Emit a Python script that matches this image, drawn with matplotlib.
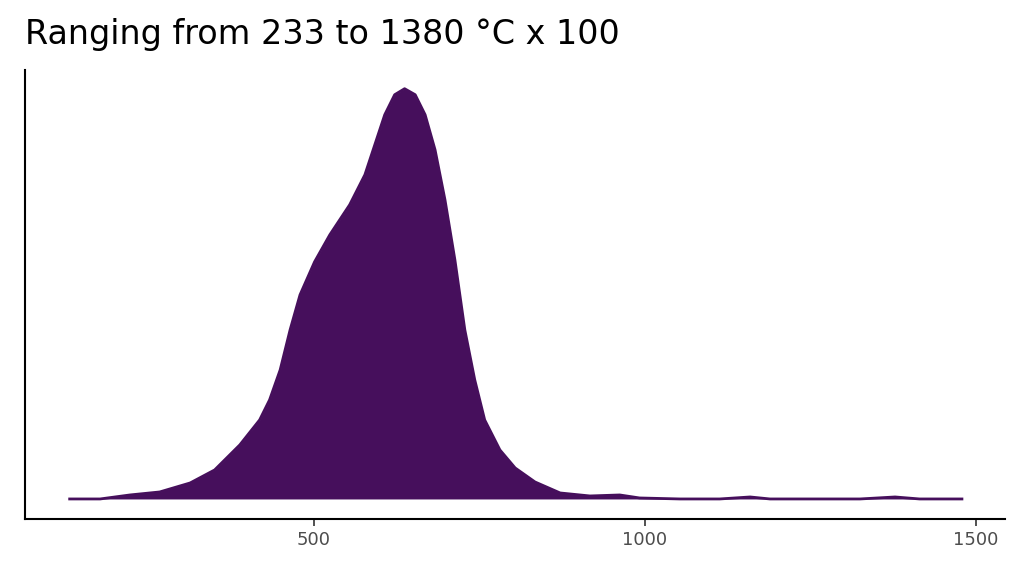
import matplotlib.pyplot as plt

# density curve (x in °C x 100, height in relative units)
temp = [131, 177, 222, 267, 313, 350, 388, 418, 433, 449, 464, 479, 501, 524,
        554, 577, 592, 607, 622, 637, 653, 668, 683, 698, 713, 728, 743, 758,
        781, 804, 834, 872, 917, 962, 992, 1053, 1113, 1159, 1189, 1325, 1378,
        1415, 1479]
dens = [0, 0, 4, 7, 16, 29, 54, 79, 99, 129, 169, 204, 237, 264, 294, 324, 354,
        384, 404, 410, 404, 384, 349, 299, 239, 169, 119, 79, 49, 31, 17, 6, 3,
        4, 1, 0, 0, 2, 0, 0, 2, 0, 0]
xticks = [500, 1000, 1500]

fig = plt.figure(figsize=(10.24, 5.76), dpi=100)
ax = fig.add_axes([0.0244, 0.099, 0.957, 0.78])
ax.fill_between(temp, dens, 0, color='#460F5C', lw=0)
ax.plot(temp, dens, color='#460F5C', lw=2)
ax.set_xlim(63.5, 1544)
ax.set_ylim(-20, 429)
ax.set_xticks(xticks)
ax.set_xticklabels([str(t) for t in xticks], fontsize=13, color='#4d4d4d')
ax.set_yticks([])
for s in ['top', 'right']:
    ax.spines[s].set_visible(False)
for s in ['left', 'bottom']:
    ax.spines[s].set_linewidth(1.5)
ax.tick_params(axis='x', length=5, width=1.2, color='#333333')
fig.text(0.0244, 0.94, 'Ranging from 233 to 1380 °C x 100', fontsize=24,
         va='center', ha='left')
fig.savefig('out.png')
